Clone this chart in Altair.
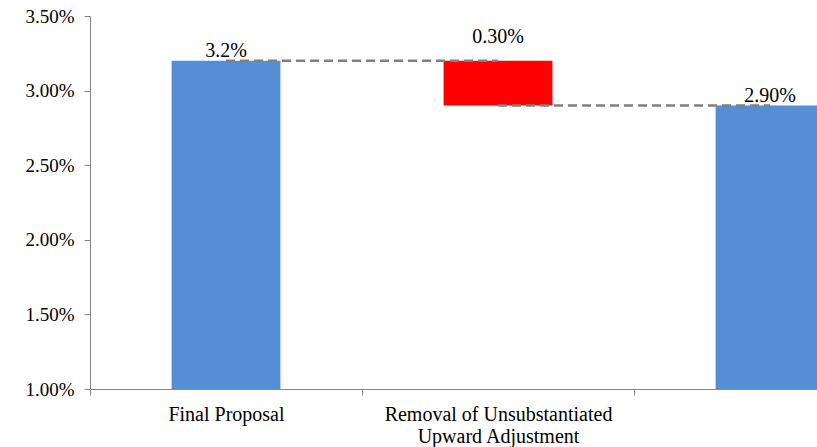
import altair as alt
import pandas as pd

categories = ["Final Proposal", "Removal of Unsubstantiated Upward Adjustment", " "]
bar_start = [0.0, 0.029, 0.0]
bar_end = [0.032, 0.032, 0.029]
bar_kind = ["total", "decrease", "total"]
label_text = ["3.2%", "0.30%", "2.90%"]
y_ticks = [0.01, 0.015, 0.02, 0.025, 0.03, 0.035]
conn_from = [categories[0], categories[1]]
conn_to = [categories[1], categories[2]]
conn_level = [0.032, 0.029]

bars = pd.DataFrame({"category": categories, "start": bar_start, "end": bar_end,
                     "kind": bar_kind, "label": label_text})
conns = pd.DataFrame({"from": conn_from, "to": conn_to, "level": conn_level})

FONT = "Liberation Serif"
xscale = alt.Scale(domain=categories, range=[0, 816], paddingInner=0, paddingOuter=0)
yscale = alt.Scale(domain=[0.01, 0.035], nice=False, zero=False)

label_expr = ("datum.label == 'Removal of Unsubstantiated Upward Adjustment' ? "
              "['Removal of Unsubstantiated', 'Upward Adjustment'] : datum.label")

bar_layer = alt.Chart(bars).mark_bar(width=alt.RelativeBandSize(0.4), clip=True).encode(
    x=alt.X("category:N", scale=xscale, sort=categories, title=None,
            axis=alt.Axis(title=None, tickBand="extent", labelAngle=0, labelExpr=label_expr,
                          labelFont=FONT, labelFontSize=20, labelColor="black",
                          labelPadding=9, labelLineHeight=22, tickSize=6, labelLimit=0,
                          domainColor="#868686", tickColor="#868686", labelOverlap=False)),
    y=alt.Y("end:Q", scale=yscale, title=None,
            axis=alt.Axis(title=None, values=y_ticks, format=".2%", grid=False,
                          labelFont=FONT, labelFontSize=19, labelColor="black",
                          labelPadding=10, tickSize=6,
                          domainColor="#868686", tickColor="#868686")),
    y2="start:Q",
    color=alt.Color("kind:N", scale=alt.Scale(domain=["total", "decrease"],
                                              range=["#558ED5", "#FF0000"]), legend=None),
)

rule_layer = alt.Chart(conns).mark_rule(color="#808080", strokeWidth=2.5,
                                        strokeDash=[9, 5]).encode(
    x=alt.X("from:N", scale=xscale, sort=categories, title=None),
    x2="to:N",
    y=alt.Y("level:Q", scale=yscale, title=None),
)

text_total = alt.Chart(bars).transform_filter(alt.datum.kind == "total").mark_text(
    font=FONT, fontSize=20, dy=-10, color="black").encode(
    x=alt.X("category:N", scale=xscale, sort=categories, title=None),
    y=alt.Y("end:Q", scale=yscale, title=None),
    text="label:N",
)
text_dec = alt.Chart(bars).transform_filter(alt.datum.kind == "decrease").mark_text(
    font=FONT, fontSize=20, dy=-24, color="black").encode(
    x=alt.X("category:N", scale=xscale, sort=categories, title=None),
    y=alt.Y("end:Q", scale=yscale, title=None),
    text="label:N",
)

chart = alt.layer(bar_layer, rule_layer, text_total, text_dec).properties(
    width=727, height=373,
    autosize=alt.AutoSizeParams(type="none"),
    padding={"left": 90, "top": 16, "right": 0, "bottom": 58},
).configure_view(stroke=None)

chart.save("out.html", embed_options={"renderer": "svg", "actions": False})
